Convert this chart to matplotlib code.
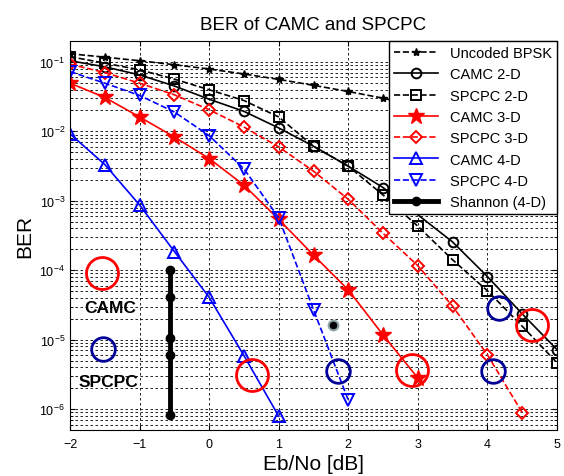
import numpy as np
import matplotlib
matplotlib.use("Agg")
import matplotlib.pyplot as plt
from matplotlib.ticker import LogLocator, NullFormatter

plt.rcParams['font.family'] = ['Liberation Sans', 'DejaVu Sans']
plt.rcParams['mathtext.fontset'] = 'custom'
plt.rcParams['mathtext.rm'] = 'Liberation Sans'

# Eb/No [dB] grid
ebno = [-2, -1.5, -1, -0.5, 0, 0.5, 1, 1.5, 2, 2.5, 3, 3.5, 4, 4.5, 5]

bpsk = [0.131, 0.117, 0.104, 0.091, 0.079, 0.067, 0.056, 0.046, 0.0375,
        0.030, 0.023, 0.017, 0.0125, 0.0088, 0.006]

camc2_x = [-2, -1.5, -1, -0.5, 0, 0.5, 1, 1.5, 2, 2.5, 3.5, 4, 4.5, 5]
camc2 = [0.104, 0.085, 0.065, 0.045, 0.029, 0.0194, 0.0112, 0.0061, 0.00315,
         0.00155, 2.55e-4, 8.1e-5, 2.35e-5, 7.2e-6]

spcpc2 = [0.119, 0.096, 0.077, 0.0565, 0.0397, 0.0278, 0.0161, 0.0061, 0.00315,
          0.00121, 4.3e-4, 1.41e-4, 5.06e-5, 1.56e-5, 4.65e-6]

camc3_x = [-2, -1.5, -1, -0.5, 0, 0.5, 1, 1.5, 2, 2.5, 3]
camc3 = [0.0494, 0.0308, 0.0161, 0.0083, 0.00406, 0.00168, 5.4e-4, 1.65e-4,
         5.2e-5, 1.17e-5, 2.8e-6]

spcpc3_x = [-2, -1.5, -1, -0.5, 0, 0.5, 1, 1.5, 2, 2.5, 3, 3.5, 4, 4.5]
spcpc3 = [0.0927, 0.0702, 0.0494, 0.0336, 0.0205, 0.01155, 0.00597, 0.00267,
          0.00105, 3.4e-4, 1.16e-4, 3.03e-5, 6.05e-6, 8.9e-7]

camc4_x = [-2, -1.5, -1, -0.5, 0, 0.5, 1]
camc4 = [0.0092, 0.00333, 8.7e-4, 1.86e-4, 4.07e-5, 5.9e-6, 7.9e-7]

spcpc4_x = [-2, -1.5, -1, -0.5, 0, 0.5, 1, 1.5, 2]
spcpc4 = [0.0726, 0.0494, 0.0329, 0.019, 0.00867, 0.00289, 5.7e-4, 2.7e-5, 1.34e-6]

shannon_x = [-0.56, -0.56, -0.56, -0.56, -0.56]
shannon = [1.01e-4, 4.15e-5, 1.05e-5, 6.05e-6, 8.1e-7]

# highlight circles
red_cx = [-1.545, 0.62, 2.92, 4.64]
red_cy = [9e-5, 3.1e-6, 3.6e-6, 1.65e-5]
blue_cx = [-1.53, 1.855, 4.08, 4.17]
blue_cy = [7.4e-6, 3.5e-6, 3.5e-6, 2.83e-5]
dot_x = [1.78]
dot_y = [1.63e-5]

fig = plt.figure(figsize=(5.64, 4.77), dpi=100)
ax = fig.add_axes([70 / 564, 1 - 431 / 477, 487 / 564, 389 / 477])

ax.semilogy(ebno, bpsk, 'k--', marker='*', ms=6, lw=1.2, label='Uncoded BPSK')
ax.semilogy(camc2_x, camc2, 'k-', marker='o', ms=7, mfc='none', mew=1.4, lw=1.2, label='CAMC 2-D')
ax.semilogy(ebno, spcpc2, 'k--', marker='s', ms=7, mfc='none', mew=1.4, lw=1.2, label='SPCPC 2-D')
ax.semilogy(camc3_x, camc3, '-', color='#ff0000', marker='*', ms=12, lw=1.2, label='CAMC 3-D')
ax.semilogy(spcpc3_x, spcpc3, '--', color='#ff0000', marker='D', ms=6, mfc='none', mew=1.4, lw=1.2, label='SPCPC 3-D')
ax.semilogy(camc4_x, camc4, '-', color='#0000ff', marker='^', ms=9, mfc='none', mew=1.4, lw=1.2, label='CAMC 4-D')
ax.semilogy(spcpc4_x, spcpc4, '--', color='#0000ff', marker='v', ms=9, mfc='none', mew=1.4, lw=1.2, label='SPCPC 4-D')
ax.semilogy(shannon_x, shannon, 'k-', marker='o', ms=6, lw=3.5, label='Shannon (4-D)')

ax.plot(red_cx, red_cy, 'o', ms=23, mfc='none', mec='#ff0000', mew=2)
ax.plot(blue_cx, blue_cy, 'o', ms=17, mfc='none', mec='#000099', mew=2)
ax.plot(dot_x, dot_y, 'o', ms=7, mfc='black', mec='#8fa8a8', mew=1.5)

ax.text(-1.42, 2.9e-5, 'CAMC', fontsize=12.5, fontweight='bold', ha='center', va='center')
ax.text(-1.45, 2.5e-6, 'SPCPC', fontsize=12.5, fontweight='bold', ha='center', va='center')

ax.set_xlim(-2, 5)
ax.set_ylim(5e-7, 0.2)
ax.set_xticks(range(-2, 6))
ax.yaxis.set_major_locator(LogLocator(base=10, numticks=10))
ax.yaxis.set_minor_locator(LogLocator(base=10, subs=np.arange(2, 10), numticks=20))
ax.yaxis.set_minor_formatter(NullFormatter())
ax.tick_params(which='both', direction='in', top=True, right=True, labelsize=9)
ax.tick_params(axis='x', pad=6)
ax.grid(True, which='major', color='black', ls=(0, (3, 3)), lw=0.6)
ax.grid(True, which='minor', axis='y', color='black', ls=(0, (3, 3)), lw=0.6)

ax.set_title('BER of CAMC and SPCPC', fontsize=13.5, pad=9)
ax.set_xlabel('Eb/No [dB]', fontsize=15, labelpad=3)
ax.set_ylabel('BER', fontsize=15, labelpad=4)

leg = ax.legend(loc='upper right', borderaxespad=0, fancybox=False, edgecolor='black',
                framealpha=1, fontsize=10.5, handlelength=3, labelspacing=0.5,
                borderpad=0.35)
leg.get_frame().set_linewidth(1)

fig.savefig('out.png', dpi=100)
